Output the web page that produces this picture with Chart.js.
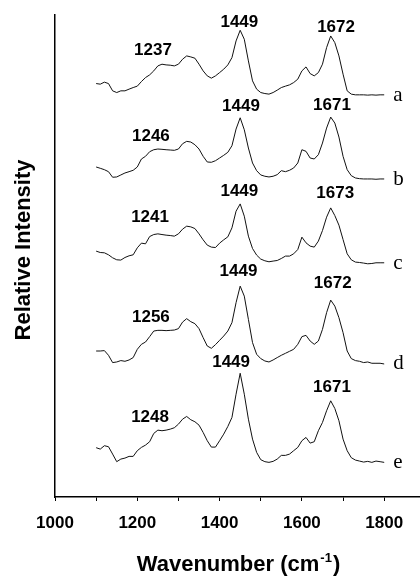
<!DOCTYPE html>
<html>
<head>
<meta charset="utf-8">
<script src="https://cdn.jsdelivr.net/npm/chart.js@4/dist/chart.umd.min.js"></script>
<style>
  html, body { margin: 0; padding: 0; background: #fff; }
  canvas { display: block; }
</style>
</head>
<body>
<canvas id="c" width="420" height="578"></canvas>
<script>
// ---- data ----
const wavenumbers = [1100,1110,1120,1130,1140,1150,1160,1170,1180,1190,
  1200,1210,1220,1230,1240,1250,1260,1270,1280,1290,
  1300,1310,1320,1330,1340,1350,1360,1370,1380,1390,
  1400,1410,1420,1430,1440,1450,1460,1470,1480,1490,
  1500,1510,1520,1530,1540,1550,1560,1570,1580,1590,
  1600,1610,1620,1630,1640,1650,1660,1670,1680,1690,
  1700,1710,1720,1730,1740,1750,1760,1770,1780,1790,1800];

const specA = [11.3,10.7,12.7,11.3,4.0,2.3,4.0,4.0,5.7,7.3,
  8.7,13.3,17.3,20.0,24.0,29.0,30.7,30.0,29.7,29.0,
  30.7,35.7,39.0,38.0,36.7,30.7,24.0,19.0,16.7,19.0,
  22.3,25.7,30.0,37.3,54.0,64.7,55.7,34.0,14.0,5.7,
  2.3,1.3,0.7,2.3,4.7,7.3,8.7,10.0,12.3,15.7,
  24.0,28.0,21.3,19.0,22.3,30.7,47.3,59.0,52.3,39.0,
  20.7,4.0,0.7,0,0,0,-0.3,0,-0.3,0,0];

const specB = [12.0,10.7,9.3,7.3,1.7,2.0,4.0,6.0,7.3,8.7,
  12.0,20.0,22.7,27.3,29.3,30.0,29.7,29.3,29.0,28.7,
  30.0,35.3,37.7,37.0,34.3,30.0,22.7,17.0,16.7,18.3,
  21.0,23.7,26.7,33.3,50.0,61.3,49.3,31.0,16.0,8.3,
  4.0,2.7,2.0,2.7,4.3,8.3,7.3,8.7,11.0,16.0,
  29.3,27.7,21.0,20.0,24.3,36.0,51.0,62.0,56.0,42.0,
  22.7,9.3,3.3,1.0,0.3,0,0,0,-0.3,0,0];

const specC = [11.7,10.3,10.0,8.0,5.0,3.0,2.7,5.3,7.0,8.0,
  15.0,19.7,19.0,26.3,28.3,29.0,28.3,27.7,27.3,26.7,
  29.0,33.7,36.7,36.0,34.3,29.0,23.0,17.7,15.7,15.3,
  19.7,23.0,26.0,35.0,51.7,59.0,46.7,26.7,14.3,7.7,
  3.7,2.0,1.0,1.7,2.3,4.3,6.7,6.7,9.0,13.3,
  25.7,20.0,16.7,15.7,21.7,32.3,45.7,55.0,47.3,37.7,
  23.3,9.0,3.0,0.7,0.3,-0.3,-1.0,-0.7,0,0,0];

const specD = [12.3,12.3,12.7,8.0,0.7,1.3,2.7,2.0,3.3,5.7,
  14.0,19.0,21.3,26.7,32.3,33.0,33.0,32.7,33.0,33.3,
  34.7,41.3,44.7,41.7,39.7,34.7,25.7,17.3,15.0,18.7,
  23.0,27.3,32.3,40.7,60.7,77.3,67.3,44.0,20.7,9.0,
  4.7,2.3,1.3,3.3,5.7,8.0,10.0,12.0,14.0,19.0,
  26.7,28.0,22.3,19.0,22.3,34.0,50.7,63.3,57.3,45.7,
  30.7,12.3,4.7,2.7,2.0,0.7,1.3,0,0,0,-0.7];

const specE = [14.7,13.3,16.7,15.7,8.3,0.7,3.3,4.3,6.0,6.0,
  11.7,15.0,17.3,20.7,29.0,32.3,31.7,32.3,33.3,34.7,
  38.3,43.3,46.0,42.7,40.7,37.3,30.0,21.7,15.3,15.3,
  21.7,28.3,36.0,45.0,68.3,89.3,68.3,43.3,23.3,10.0,
  2.7,0.7,0,1.0,3.3,7.0,7.0,8.3,11.7,15.0,
  21.7,25.0,19.3,20.7,31.7,40.0,51.7,61.7,54.0,41.7,
  23.3,11.7,4.7,2.3,1.3,0.3,1.0,0,1.3,0.7,0];

const traceNames = ['a','b','c','d','e'];
const traceOffsets = [403, 318.7, 234.7, 134, 34.7];
const xTickValues = [1000,1100,1200,1300,1400,1500,1600,1700,1800];

// peak annotations: [text, wavenumber, intensity]
const peakTexts = ['1237','1449','1672','1246','1449','1671','1241','1449','1673','1256','1449','1672','1248','1449','1671'];
const peakWn    = [1238,1448,1683, 1233,1452,1673, 1231,1448,1681, 1233,1446,1675, 1231,1428,1673];
const peakVal   = [448,476,471, 361,391,393, 280,306,304, 180,226,214, 80,135,110];

// ---- build ----
const spectra = [specA, specB, specC, specD, specE];
const datasets = spectra.map((s, k) => ({
  label: traceNames[k],
  data: wavenumbers.map((w, i) => ({ x: w, y: traceOffsets[k] + s[i] })),
  borderColor: '#111',
  borderWidth: 1,
  pointRadius: 0,
  tension: 0,
  fill: false
}));

const SANS = '"Liberation Sans", Arial, sans-serif';
const SERIF = '"Liberation Serif", "Times New Roman", serif';

const annotPlugin = {
  id: 'annot',
  afterDraw(chart) {
    const ctx = chart.ctx;
    const xs = chart.scales.x, ys = chart.scales.y;
    ctx.save();
    ctx.fillStyle = '#000';
    // peak labels
    ctx.font = 'bold 17px ' + SANS;
    ctx.textAlign = 'center';
    ctx.textBaseline = 'middle';
    peakTexts.forEach((t, i) => {
      ctx.fillText(t, xs.getPixelForValue(peakWn[i]), ys.getPixelForValue(peakVal[i]));
    });
    // trace letters
    ctx.font = '21px ' + SERIF;
    ctx.textAlign = 'left';
    ctx.textBaseline = 'alphabetic';
    traceNames.forEach((n, k) => {
      ctx.fillText(n, xs.getPixelForValue(1822), ys.getPixelForValue(traceOffsets[k]) + 6);
    });
    // y title
    ctx.save();
    ctx.font = 'bold 22px ' + SANS;
    ctx.translate(30, (chart.chartArea.top + chart.chartArea.bottom) / 2 - 6);
    ctx.rotate(-Math.PI / 2);
    ctx.textAlign = 'center';
    ctx.fillText('Relative Intensity', 0, 0);
    ctx.restore();
    // x title with superscript
    const main = 'Wavenumber (cm';
    const sup = '-1';
    const end = ')';
    ctx.font = 'bold 22px ' + SANS;
    const w1 = ctx.measureText(main).width;
    const w3 = ctx.measureText(end).width;
    ctx.font = 'bold 13px ' + SANS;
    const w2 = ctx.measureText(sup).width;
    const cx = (chart.chartArea.left + chart.chartArea.right) / 2;
    let x0 = cx - (w1 + w2 + w3) / 2;
    const base = 571;
    ctx.textAlign = 'left';
    ctx.font = 'bold 22px ' + SANS;
    ctx.fillText(main, x0, base);
    ctx.font = 'bold 13px ' + SANS;
    ctx.fillText(sup, x0 + w1 + 1, base - 9);
    ctx.font = 'bold 22px ' + SANS;
    ctx.fillText(end, x0 + w1 + w2 + 2, base);
    ctx.restore();
  }
};

new Chart(document.getElementById('c').getContext('2d'), {
  type: 'line',
  data: { datasets },
  options: {
    responsive: false,
    animation: false,
    layout: { padding: { top: 15, right: 0, left: 0, bottom: 0 } },
    plugins: { legend: { display: false }, tooltip: { enabled: false } },
    scales: {
      x: {
        type: 'linear',
        min: 1000,
        max: 1887,
        afterBuildTicks: (s) => { s.ticks = xTickValues.map(v => ({ value: v })); },
        afterFit: (s) => { s.height = 81; },
        ticks: {
          autoSkip: false,
          maxRotation: 0,
          padding: 12,
          color: '#000',
          font: { family: SANS, weight: 'bold', size: 17 },
          callback: (v) => (v % 200 === 0 ? String(v) : '')
        },
        grid: { drawOnChartArea: false, tickLength: 4, color: '#000', lineWidth: 1 },
        border: { display: true, color: '#000', width: 1.5 }
      },
      y: {
        min: 0,
        max: 483,
        afterFit: (s) => { s.width = 55; },
        ticks: { display: false },
        grid: { display: false },
        border: { display: true, color: '#000', width: 1.5 }
      }
    }
  },
  plugins: [annotPlugin]
});
</script>
</body>
</html>
